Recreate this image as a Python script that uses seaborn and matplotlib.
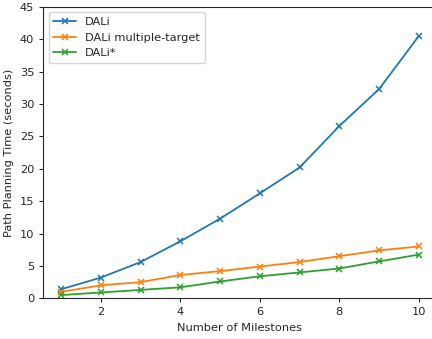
import matplotlib
matplotlib.use("Agg")
import matplotlib.pyplot as plt
import seaborn as sns

milestones = [1, 2, 3, 4, 5, 6, 7, 8, 9, 10]
dali = [1.4, 3.2, 5.6, 8.8, 12.3, 16.2, 20.2, 26.6, 32.3, 40.5]
dali_multi = [1.0, 2.0, 2.5, 3.6, 4.2, 4.9, 5.6, 6.5, 7.4, 8.0]
dali_star = [0.5, 0.9, 1.3, 1.7, 2.6, 3.4, 4.0, 4.6, 5.7, 6.75]
series_names = ["DALi", "DALi multiple-target", "DALi*"]
colors = ["#1f77b4", "#ff7f0e", "#2ca02c"]

sns.set_style("ticks")
plt.rcParams["font.size"] = 8

fig = plt.figure(figsize=(4.32, 3.39), dpi=100)
ax = fig.add_axes([0.1, 0.12, 0.911, 0.86])
for values, name, color in zip([dali, dali_multi, dali_star], series_names, colors):
    sns.lineplot(x=milestones, y=values, color=color, label=name, marker="x",
                 markersize=5, markeredgewidth=1.1, markeredgecolor=color,
                 linewidth=1.3, ax=ax)
ax.set_ylim(0, 45)
ax.set_xticks([2, 4, 6, 8, 10])
ax.set_yticks(range(0, 50, 5))
ax.tick_params(labelsize=8.2, length=3)
ax.set_xlabel("Number of Milestones", fontsize=8.2)
ax.set_ylabel("Path Planning Time (seconds)", fontsize=8.2)
ax.legend(loc="upper left", fontsize=8.2)
fig.savefig("out.png", dpi=100)
